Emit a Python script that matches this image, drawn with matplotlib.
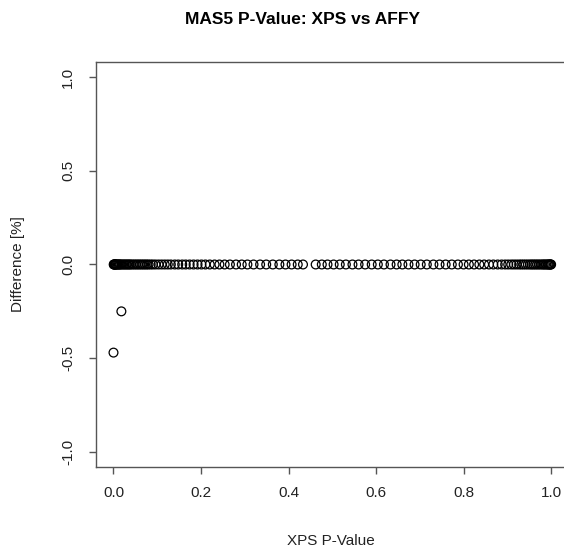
import matplotlib.pyplot as plt

# p-values of probesets with zero difference
pvals_zero = [
    0.0005, 0.001, 0.002, 0.003, 0.004, 0.005, 0.006, 0.008, 0.010, 0.012,
    0.014, 0.016, 0.019, 0.022, 0.025, 0.028, 0.031, 0.034, 0.037, 0.040,
    0.044, 0.048, 0.052, 0.056, 0.060, 0.064, 0.068, 0.072, 0.076, 0.080,
    0.085, 0.090, 0.096, 0.103, 0.110, 0.117, 0.124, 0.131, 0.140, 0.148,
    0.157, 0.165, 0.174, 0.183, 0.192, 0.201, 0.210, 0.220, 0.231, 0.242,
    0.254, 0.266, 0.280, 0.293, 0.306, 0.320, 0.335, 0.349, 0.364, 0.379,
    0.393, 0.407, 0.421, 0.433, 0.462, 0.476, 0.489, 0.503, 0.517, 0.531,
    0.546, 0.560, 0.575, 0.590, 0.604, 0.618, 0.633, 0.647, 0.660, 0.674,
    0.688, 0.702, 0.716, 0.731, 0.745, 0.759, 0.773, 0.787, 0.800, 0.812,
    0.824, 0.836, 0.847, 0.858, 0.868, 0.878, 0.887, 0.895, 0.902, 0.909,
    0.915, 0.921, 0.927, 0.932, 0.937, 0.942, 0.947, 0.952, 0.956, 0.960,
    0.964, 0.968, 0.972, 0.976, 0.980, 0.983, 0.986, 0.989, 0.992, 0.994,
    0.996, 0.998, 0.999, 1.000,
]
diff_zero = [0.0 for _ in pvals_zero]

# the two outliers
pvals_out = [0.0, 0.018]
diff_out = [-0.47, -0.25]

xticks = [0.0, 0.2, 0.4, 0.6, 0.8, 1.0]
yticks = [-1.0, -0.5, 0.0, 0.5, 1.0]

plt.rcParams['font.family'] = ['Liberation Sans', 'DejaVu Sans']

fig = plt.figure(figsize=(5.64, 5.55), dpi=100)
ax = fig.add_axes([0.1702, 0.1586, 0.838, 0.7297])

ax.scatter(pvals_zero + pvals_out, diff_zero + diff_out, s=40,
           facecolors='none', edgecolors='black', linewidths=0.9, zorder=3,
           clip_on=False)

ax.set_xlim(-0.04, 1.04)
ax.set_ylim(-1.08, 1.08)
ax.set_xticks(xticks)
ax.set_xticklabels(['%.1f' % v for v in xticks])
ax.set_yticks(yticks)
ax.set_yticklabels(['%.1f' % v for v in yticks], rotation=90, va='center')

for sp in ax.spines.values():
    sp.set_color('#555555')
    sp.set_linewidth(1.0)
ax.tick_params(direction='out', length=5, width=1.0, color='#555555',
               labelsize=11, labelcolor='#222222')
ax.tick_params(axis='x', pad=9)
ax.tick_params(axis='y', pad=10)

fig.text(0.5355, 1 - 20 / 555, 'MAS5 P-Value: XPS vs AFFY', ha='center',
         va='center', fontsize=12.5, fontweight='bold')
fig.text(331 / 564, 1 - 541 / 555, 'XPS P-Value', ha='center', va='center',
         fontsize=11, color='#222222')
fig.text(18 / 564, 1 - 264 / 555, 'Difference [%]', ha='center',
         va='center', rotation=90, fontsize=11, color='#222222')

fig.savefig('out.png', dpi=100)
